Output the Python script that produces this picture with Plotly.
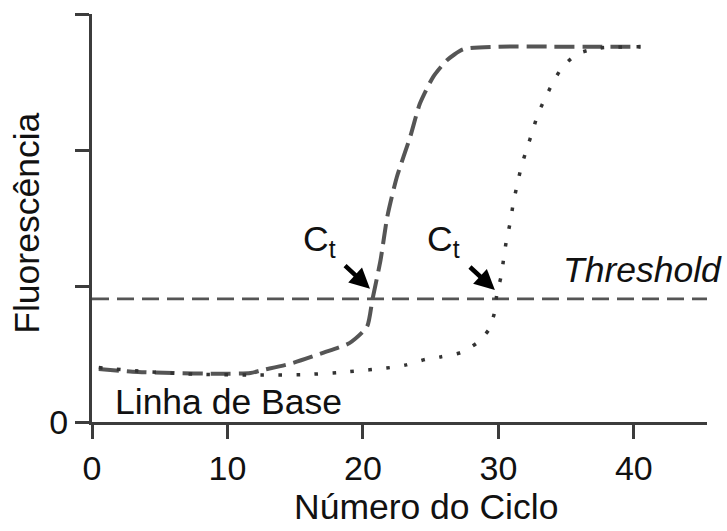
import plotly.graph_objects as go

# Sample A (dashed curve)
cycle_a = [0.5, 3, 6, 9, 11.7, 12.5, 14.7, 17.1, 19.0, 20.3, 20.7, 21.3, 21.8, 22.5, 23.5, 24.2, 25.2, 26.2, 27.4, 30, 34, 40.5]
fluor_a = [0.39, 0.37, 0.36, 0.355, 0.36, 0.38, 0.43, 0.51, 0.58, 0.70, 0.90, 1.19, 1.51, 1.80, 2.10, 2.34, 2.54, 2.66, 2.74, 2.76, 2.76, 2.76]

# Sample B (dotted curve)
cycle_b = [0.5, 4, 8, 12, 16, 19, 22, 23.2, 24.6, 25.8, 27.2, 28.4, 29.3, 29.7, 29.9, 30.2, 30.4, 30.6, 30.9, 31.1,
           31.4, 31.7, 32.1, 32.5, 32.9, 33.5, 34.1, 34.8, 35.9, 37.5, 40.5]
fluor_b = [0.40, 0.37, 0.35, 0.345, 0.35, 0.37, 0.40, 0.42, 0.46, 0.48, 0.51, 0.58, 0.68, 0.80, 0.95, 1.07, 1.21, 1.34, 1.48, 1.61,
           1.75, 1.88, 2.01, 2.13, 2.26, 2.39, 2.51, 2.62, 2.71, 2.75, 2.76]

threshold = 0.905
x_range = [0, 45.4]
y_range = [0, 3]
x_ticks = [0, 10, 20, 30, 40]
y_ticks = [0, 1, 2, 3]
y_ticklabels = ["0", "", "", ""]
ct_a = (20.52, 0.98)
ct_b = (29.74, 0.97)

FONT = "Liberation Sans, Arial, sans-serif"
AX = "#3c3c3c"
TS = 35.5

fig = go.Figure()
fig.add_trace(go.Scatter(x=x_range, y=[threshold, threshold], mode="lines",
                         line=dict(color="#555555", width=2.6, dash="17px,8px"), hoverinfo="skip"))
fig.add_trace(go.Scatter(x=cycle_a, y=fluor_a, mode="lines",
                         line=dict(color="#555555", width=4, dash="20px,8px", shape="spline", smoothing=0.6)))
fig.add_trace(go.Scatter(x=cycle_b, y=fluor_b, mode="lines",
                         line=dict(color="#333333", width=3.5, dash="3.5px,14.5px", shape="spline", smoothing=0.6)))

annotations = []
# arrows to Ct points
for (hx, hy) in [ct_a, ct_b]:
    annotations.append(dict(x=hx, y=hy, xref="x", yref="y", ax=hx - 1.95, ay=hy + 0.18,
                            axref="x", ayref="y", text="", showarrow=True, arrowhead=2,
                            arrowsize=0.9, arrowwidth=4.5, arrowcolor="#000000", standoff=0))
for lx in [15.45, 24.6]:
    annotations.append(dict(x=lx, y=1.33, xref="x", yref="y", text="C<sub>t</sub>", showarrow=False,
                            xanchor="left", yanchor="middle", font=dict(family=FONT, size=TS, color="#111111")))
annotations.append(dict(x=1.027, y=1.118, xref="paper", yref="y", text="<i>Threshold</i>", showarrow=False,
                        xanchor="right", yanchor="middle", font=dict(family=FONT, size=TS, color="#111111")))
annotations.append(dict(x=1.55, y=0.147, xref="x", yref="y", text="Linha de Base", showarrow=False,
                        xanchor="left", yanchor="middle", font=dict(family=FONT, size=TS, color="#111111")))
annotations.append(dict(x=0.543, y=-0.208, xref="paper", yref="paper", text="Número do Ciclo", showarrow=False,
                        xanchor="center", yanchor="middle", font=dict(family=FONT, size=TS, color="#111111")))
annotations.append(dict(x=-0.106, y=0.488, xref="paper", yref="paper", text="Fluorescência", showarrow=False,
                        textangle=-90, xanchor="center", yanchor="middle", font=dict(family=FONT, size=TS, color="#111111")))

fig.update_layout(
    width=727, height=531,
    margin=dict(l=92, r=20, t=14, b=109),
    paper_bgcolor="white", plot_bgcolor="white",
    showlegend=False,
    annotations=annotations,
    font=dict(family=FONT, color="#111111"),
)
fig.update_xaxes(range=x_range, tickvals=x_ticks, showline=True, linecolor=AX, linewidth=3,
                 ticks="outside", ticklen=14, tickwidth=3, tickcolor=AX, showgrid=False, zeroline=False,
                 tickfont=dict(family=FONT, size=34, color="#111111"))
fig.update_yaxes(range=y_range, tickvals=y_ticks, ticktext=y_ticklabels, showline=True, linecolor=AX, linewidth=3,
                 ticks="outside", ticklen=14, tickwidth=3, tickcolor=AX, showgrid=False, zeroline=False,
                 tickfont=dict(family=FONT, size=34, color="#111111"))

fig.write_html("out.html", config={"displayModeBar": False},
               post_script="document.body.style.margin='0';")
